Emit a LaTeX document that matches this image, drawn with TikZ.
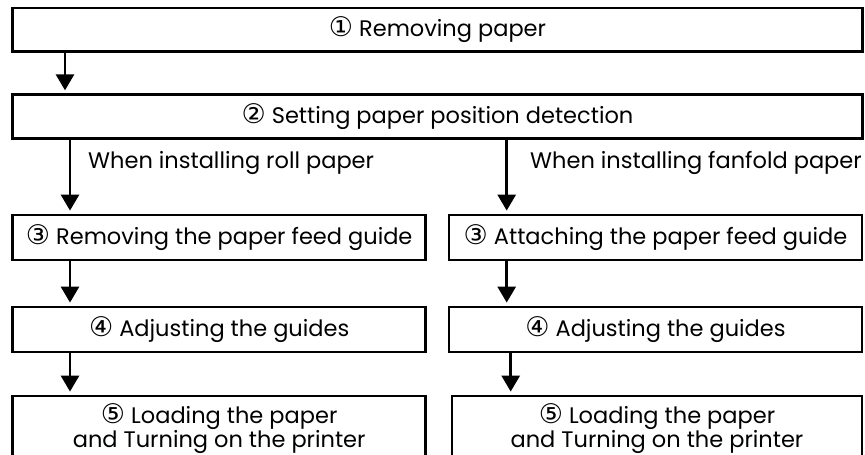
\documentclass[tikz,border=0pt]{standalone}
\usepackage{fontspec}
\setmainfont{Poppins}
\newfontfamily\symfont{DejaVu Sans}[Scale=1.2]
\usetikzlibrary{arrows.meta}
\newcommand{\cnum}[1]{{\symfont #1}}
\newcommand{\txtsize}{\fontsize{22.5pt}{23pt}\selectfont}
\begin{document}
\begin{tikzpicture}[x=1pt,y=-1pt,
  box/.style={draw, line width=2.8pt, rectangle, inner sep=0pt,
    minimum width=413pt, minimum height=45pt, font=\txtsize, align=center},
  wide/.style={box, minimum width=850pt, minimum height=43.5pt},
  arr/.style={line width=2.8pt, -{Triangle[width=18pt,length=16pt]}, shorten >=3pt},
  lbl/.style={inner sep=0pt, anchor=base west, font=\txtsize},
  inner/.style={inner sep=0pt, anchor=north, font=\txtsize, align=center}]
\useasboundingbox (0,0) rectangle (865,455);
\clip (0,0) rectangle (865,455);
% boxes
\node[wide] (b1) at (437.5,29.75) {\cnum{①} Removing paper};
\node[wide] (b2) at (437.5,116.5) {\cnum{②} Setting paper position detection};
\node[box] (b3l) at (219.2,237.5) {\cnum{③} Removing the paper feed guide};
\node[box] (b3r) at (655.5,237.5) {\cnum{③} Attaching the paper feed guide};
\node[box] (b4l) at (219.2,329.5) {\cnum{④} Adjusting the guides};
\node[box] (b4r) at (655.5,329.5) {\cnum{④} Adjusting the guides};
\node[box, minimum height=80pt] (b5l) at (219.2,436) {};
\node[box, minimum width=410pt, minimum height=80pt] (b5r) at (657,436) {};
\node[inner] (t5l) at ([yshift=-9pt]b5l.north) {\cnum{⑤} Loading the paper\\and Turning on the printer};
\node[inner] (t5r) at ([yshift=-9pt]b5r.north) {\cnum{⑤} Loading the paper\\and Turning on the printer};
% labels
\node[lbl] (lroll) at (88,168) {When installing roll paper};
\node[lbl] (lfan) at (530,168) {When installing fanfold paper};
% arrow columns
\coordinate (c1) at (65,0);
\coordinate (cl) at (70,0);
\coordinate (cr) at (506.7,0);
\coordinate (cr2) at (510.7,0);
% connectors
\draw[arr] (c1 |- b1.south) -- (c1 |- b2.north);
\draw[arr] (cl |- b2.south) -- (cl |- b3l.north);
\draw[arr] (cr |- b2.south) -- (cr |- b3r.north);
\draw[arr] (cl |- b3l.south) -- (cl |- b4l.north);
\draw[arr] (cr |- b3r.south) -- (cr |- b4r.north);
\draw[arr] (cl |- b4l.south) -- (cl |- b5l.north);
\draw[arr] (cr2 |- b4r.south) -- (cr2 |- b5r.north);
\end{tikzpicture}
\end{document}
